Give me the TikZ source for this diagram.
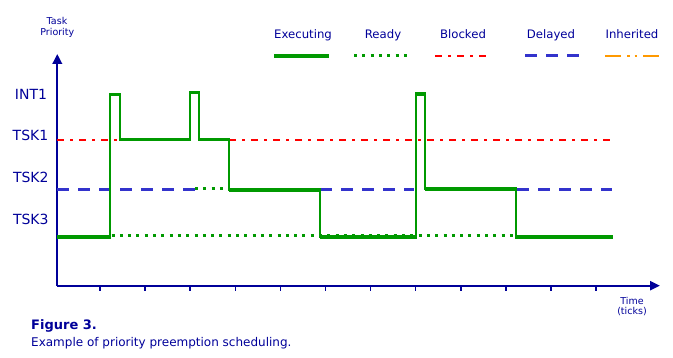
\documentclass[tikz,border=0pt]{standalone}
\usepackage{fontspec}
\setmainfont{DejaVu Sans}
\usetikzlibrary{arrows.meta}
\definecolor{navy}{RGB}{0,0,153}
\definecolor{exgreen}{RGB}{0,153,0}
\definecolor{blkred}{RGB}{255,0,0}
\definecolor{dlyblue}{RGB}{51,51,204}
\definecolor{inhorange}{RGB}{255,153,0}
\tikzset{
  txt/.style={inner sep=0pt, text=navy},
  lvl/.style={txt, anchor=base, font=\fontsize{14}{16}\selectfont},
  legtxt/.style={txt, anchor=base, font=\fontsize{11.7}{14}\selectfont},
  smalltxt/.style={txt, anchor=base, font=\fontsize{9.5}{11}\selectfont},
  axisline/.style={navy, line width=2.2pt},
  tickmark/.style={navy, line width=1.5pt},
  execthin/.style={exgreen, line width=2pt},
  execthick/.style={exgreen, line width=3.3pt},
  readyline/.style={exgreen, line width=3pt, dash pattern=on 3pt off 5.3pt},
  blockedline/.style={blkred, line width=2pt, dash pattern=on 7pt off 6pt on 3pt off 6pt},
  delayedline/.style={dlyblue, line width=3pt, dash pattern=on 12pt off 9pt},
  inheritline/.style={inhorange, line width=2pt, dash pattern=on 16pt off 6pt on 2.5pt off 5pt on 2.5pt off 6pt},
}
\begin{document}
\begin{tikzpicture}[x=1pt,y=-1pt]
\useasboundingbox (0,0) rectangle (673,358);

% axes
\coordinate (origin) at (57.3,285.7);
\coordinate (ytip) at (57.3,54);
\coordinate (xtip) at (660,285.7);
\draw[axisline,-{Triangle[length=10pt,width=9.5pt]}] (origin) -- (ytip);
\draw[axisline,-{Triangle[length=10pt,width=9pt]}] (origin) -- (xtip);
\foreach \i in {0,...,11}{
  \draw[tickmark] (100+45.1*\i,285.7) -- (100+45.1*\i,291);
}

% axis titles
\node[smalltxt] (task) at (57,25) {Task};
\node[smalltxt] (prio) at (57.3,35.5) {Priority};
\node[smalltxt] (time) at (632,305) {Time};
\node[smalltxt] (ticks) at (632,314.5) {(ticks)};

% level labels
\node[lvl] (lint) at (31,99.5) {INT1};
\node[lvl] (ltsk1) at (30.5,141) {TSK1};
\node[lvl] (ltsk2) at (30.8,182.7) {TSK2};
\node[lvl] (ltsk3) at (30.8,225) {TSK3};

% legend
\node[legtxt] (lexec) at (303,39) {Executing};
\node[legtxt] (lready) at (383,39) {Ready};
\node[legtxt] (lblock) at (463,39) {Blocked};
\node[legtxt] (ldelay) at (551,39) {Delayed};
\node[legtxt] (linher) at (632,39) {Inherited};
\draw[execthick] (274,56) -- (329,56);
\draw[readyline] (354,56) -- (407,56);
\draw[blockedline] (435,56) -- (487,56);
\draw[delayedline] (525,56) -- (579,56);
\draw[inheritline] (605,56) -- (659,56);

% blocked (TSK1)
\draw[blockedline] (57.3,140) -- (118,140);
\draw[blockedline] (229,140) -- (612,140);

% delayed (TSK2)
\draw[delayedline] (57.3,190) -- (196,190);
\draw[delayedline] (320,190) -- (414,190);
\draw[delayedline] (517,189.3) -- (612,189.3);

% ready
\draw[readyline] (111.5,235.5) -- (516,235.5);
\draw[readyline] (195,189) -- (229,189);

% executing: thin outline
\draw[execthin] (110,237) -- (110,94) -- (120,94) -- (120,140)
  -- (190,140) -- (190,92.7) -- (199,92.7) -- (199,140)
  -- (229,140) -- (229,190) -- (320,190) -- (320,237)
  -- (416.3,237) -- (416.3,94) -- (425,94) -- (425,189)
  -- (515.7,189) -- (515.7,237);
% executing: thick horizontals
\draw[execthick] (57.3,237) -- (111,237);
\draw[execthick] (109,94.3) -- (121,94.3);
\draw[execthick] (120,139.7) -- (191,139.7);
\draw[execthick] (189,92.7) -- (200,92.7);
\draw[execthick] (199,139.7) -- (230,139.7);
\draw[execthick] (229,190) -- (321,190);
\draw[execthick] (320,237) -- (417.3,237);
\draw[execthick] (415.3,94) -- (426,94);
\draw[execthick] (425,189) -- (516.7,189);
\draw[execthick] (515,237) -- (613.3,237);

% caption
\node[txt, anchor=base west, font=\bfseries\fontsize{13}{15}\selectfont] (fig) at (31,329.3) {Figure 3.};
\node[txt, anchor=base west, font=\fontsize{12}{14}\selectfont] (cap) at (31,346.7) {Example of priority preemption scheduling.};
\end{tikzpicture}
\end{document}
